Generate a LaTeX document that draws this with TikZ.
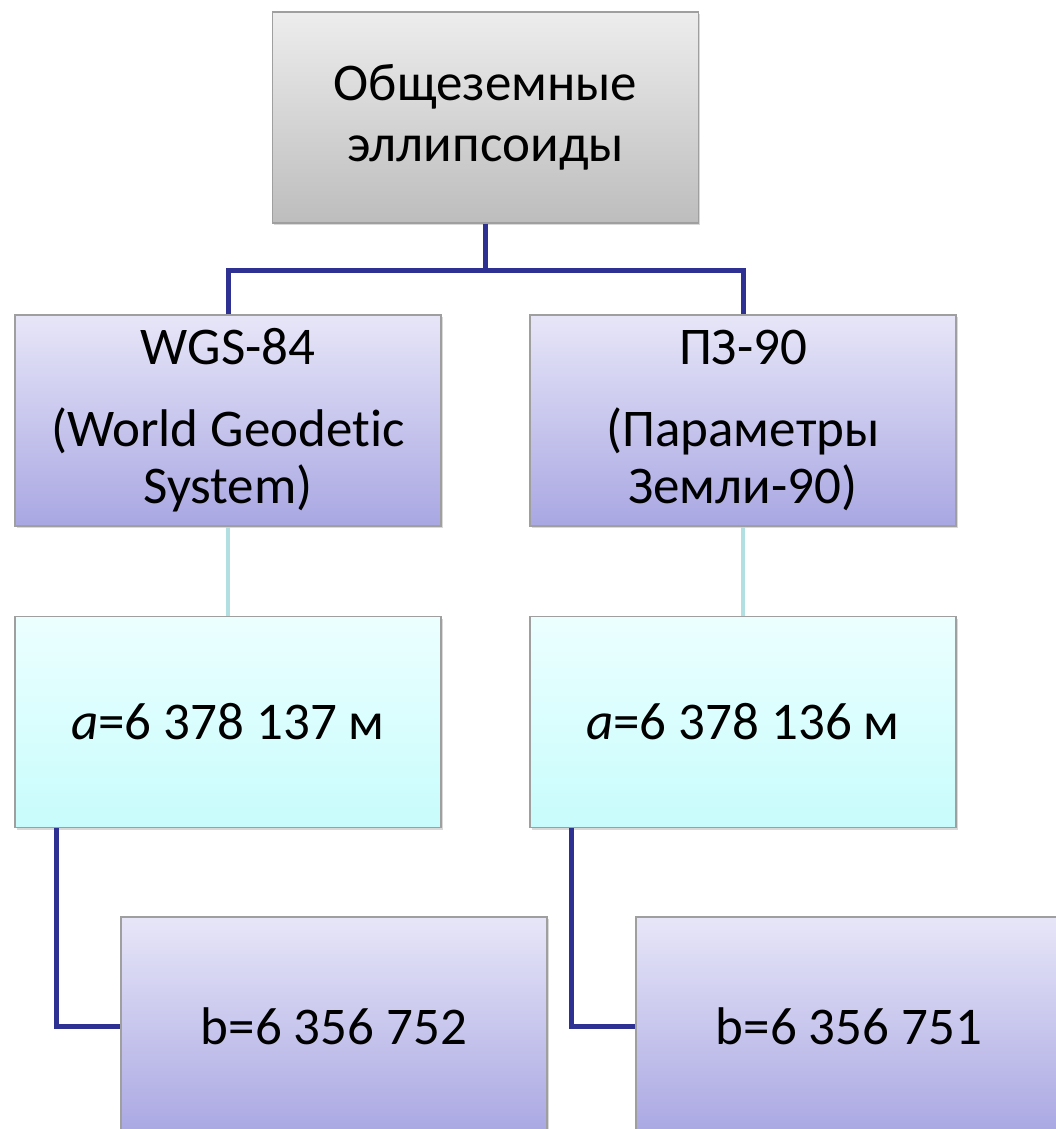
\documentclass[tikz,border=0pt]{standalone}
\usepackage{fontspec}
\setmainfont{Carlito}[Ligatures=NoCommon]
\usetikzlibrary{positioning, shadows}

\definecolor{linkdark}{RGB}{46,49,146}
\definecolor{linklight}{RGB}{178,224,226}
\definecolor{lilactop}{RGB}{231,230,248}
\definecolor{lilacbot}{RGB}{169,167,226}
\definecolor{aquatop}{RGB}{236,255,255}
\definecolor{aquabot}{RGB}{200,252,252}
\definecolor{greytop}{RGB}{237,237,237}
\definecolor{greybot}{RGB}{189,189,189}

\begin{document}
\begin{tikzpicture}[x=1pt, y=-1pt,
  box/.style={draw=gray!75, line width=1.2pt, minimum width=426pt,
    minimum height=211pt, inner sep=0pt, align=center,
    font=\fontsize{53}{57}\selectfont,
    drop shadow={shadow xshift=1.5pt, shadow yshift=-2pt, opacity=0.3}},
  greybox/.style={box, top color=greytop, bottom color=greybot},
  lilacbox/.style={box, top color=lilactop, bottom color=lilacbot},
  aquabox/.style={box, top color=aquatop, bottom color=aquabot},
  darklink/.style={draw=linkdark, line width=5pt},
  lightlink/.style={draw=linklight, line width=4pt}]

  % Page size (pixels of the slide)
  \useasboundingbox (0,0) rectangle (1056,1129);
  \clip (0,0) rectangle (1056,1129);

  % Column centres
  \def\colL{228}
  \def\colR{743}

  % Top box
  \node[greybox, font=\fontsize{53}{61}\selectfont] (top) at (485.5,117.5)
    {Общеземные\\эллипсоиды};

  % Ellipsoid names
  \node[lilacbox] (wgs) at (\colL,420.5)
    {WGS-84\\[25pt](World Geodetic\\System)};
  \node[lilacbox] (pz) at (\colR,420.5)
    {ПЗ-90\\[25pt](Параметры\\Земли-90)};

  % Semi-major axes
  \node[aquabox] (wgsA) at (\colL,722) {\textit{a}=6 378 137 м};
  \node[aquabox] (pzA) at (\colR,722) {\textit{a}=6 378 136 м};

  % Semi-minor axes (cut by the page bottom)
  \node[lilacbox, minimum height=218pt] (wgsB) at (\colL+106,1026) {b=6 356 752};
  \node[lilacbox, minimum height=218pt] (pzB) at (\colR+106,1026) {b=6 356 751};

  % Connectors
  \coordinate (fork) at (485.5,270);
  \draw[darklink] (top.south) -- (fork);
  \draw[darklink] (wgs.north) |- (fork) -| (pz.north);
  \draw[lightlink] (wgs) -- (wgsA);
  \draw[lightlink] (pz) -- (pzA);
  \draw[darklink] ([xshift=42pt]wgsA.south west) |- (wgsB.west);
  \draw[darklink] ([xshift=42pt]pzA.south west) |- (pzB.west);

\end{tikzpicture}
\end{document}
